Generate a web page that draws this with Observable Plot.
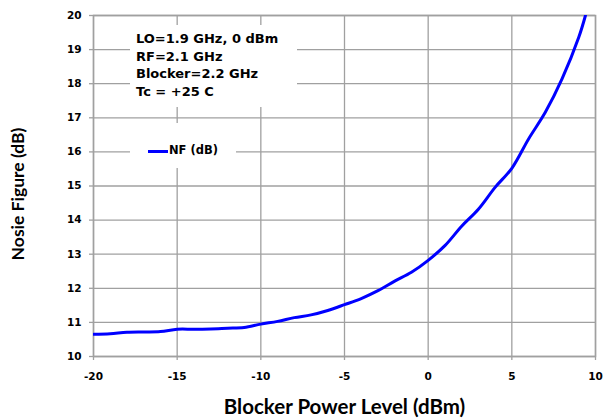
<!DOCTYPE html>
<html>
<head>
<meta charset="utf-8">
<script src="https://cdn.jsdelivr.net/npm/d3@7"></script>
<script src="https://cdn.jsdelivr.net/npm/@observablehq/plot@0.6"></script>
<style>
  html, body { margin: 0; padding: 0; background: #fff; }
  #wrap { position: relative; width: 603px; height: 420px; }
  .box { position: absolute; background: #fff; font-family: "DejaVu Sans", sans-serif; font-weight: bold; color: #000; }
  #note { left: 130px; top: 25px; width: 167px; height: 82px; font-size: 13px; line-height: 17.7px; box-sizing: border-box; padding: 5px 0 0 6px; }
  #legend { left: 130px; top: 123px; width: 106px; height: 45px; font-size: 11.5px; }
  #legend .swatch { position: absolute; left: 18px; top: 26.5px; width: 20px; height: 3px; background: #0000ff; }
  #legend .lab { position: absolute; left: 39px; top: 20px; }
</style>
</head>
<body>
<div id="wrap"></div>
<script>
const blockerPower = [-20,-19,-18,-17,-16,-15,-14,-13,-12,-11,-10,-9,-8,-7,-6,-5,-4,-3,-2,-1,0,1,2,3,4,5,6,7,8,9,9.4];
const noiseFigure  = [10.65,10.67,10.71,10.72,10.73,10.80,10.80,10.81,10.83,10.85,10.95,11.03,11.14,11.22,11.35,11.52,11.70,11.93,12.21,12.47,12.82,13.25,13.82,14.32,14.96,15.52,16.38,17.16,18.14,19.36,20.0];
const xTicks = [-20,-15,-10,-5,0,5,10];
const yTicks = [10,11,12,13,14,15,16,17,18,19,20];
const xTitle = "Blocker Power Level (dBm)";
const yTitle = "Nosie Figure (dB)";
const noteLines = ["LO=1.9 GHz, 0 dBm", "RF=2.1 GHz", "Blocker=2.2 GHz", "Tc = +25 C"];
const seriesName = "NF (dB)";

const data = blockerPower.map((x, i) => ({x, y: noiseFigure[i]}));
const grid = "#a0a0a0";

const chart = Plot.plot({
  width: 603,
  height: 420,
  marginLeft: 93,
  marginRight: 8,
  marginTop: 15,
  marginBottom: 64,
  style: {fontFamily: "DejaVu Sans", fontWeight: "bold", fontSize: "10.5px", color: "#000", background: "#fff"},
  x: {domain: [-20, 10], label: null},
  y: {domain: [10, 20], label: null},
  marks: [
    Plot.gridX(xTicks, {stroke: grid, strokeOpacity: 1, strokeWidth: 1.3}),
    Plot.gridY(yTicks, {stroke: grid, strokeOpacity: 1, strokeWidth: 1.3}),
    Plot.frame({stroke: grid, strokeWidth: 1.5}),
    Plot.axisX({ticks: xTicks, tickFormat: d => String(d), tickSize: 4, tickPadding: 12, stroke: grid, strokeWidth: 1.3, label: null, fill: "#000"}),
    Plot.axisY({ticks: yTicks, tickFormat: d => String(d), tickSize: 4, tickPadding: 8, stroke: grid, strokeWidth: 1.3, label: null, fill: "#000"}),
    Plot.line(data, {x: "x", y: "y", curve: "catmull-rom", stroke: "#0000ff", strokeWidth: 3, clip: true}),
    Plot.text([xTitle], {frameAnchor: "bottom", dy: 51, text: d => d, fontFamily: "Lato", fontWeight: "bold", fontSize: 20.5, fill: "#000", lineAnchor: "middle", textAnchor: "middle"}),
    Plot.text([yTitle], {frameAnchor: "left", dx: -75, dy: 8, rotate: -90, text: d => d, fontFamily: "Lato", fontWeight: "bold", fontSize: 17.5, fill: "#000", lineAnchor: "middle", textAnchor: "middle"})
  ]
});

const wrap = document.getElementById("wrap");
wrap.appendChild(chart);

const note = document.createElement("div");
note.className = "box";
note.id = "note";
note.innerHTML = noteLines.map(s => `<div>${s}</div>`).join("");
wrap.appendChild(note);

const legend = document.createElement("div");
legend.className = "box";
legend.id = "legend";
legend.innerHTML = `<div class="swatch"></div><div class="lab">${seriesName}</div>`;
wrap.appendChild(legend);
</script>
</body>
</html>
